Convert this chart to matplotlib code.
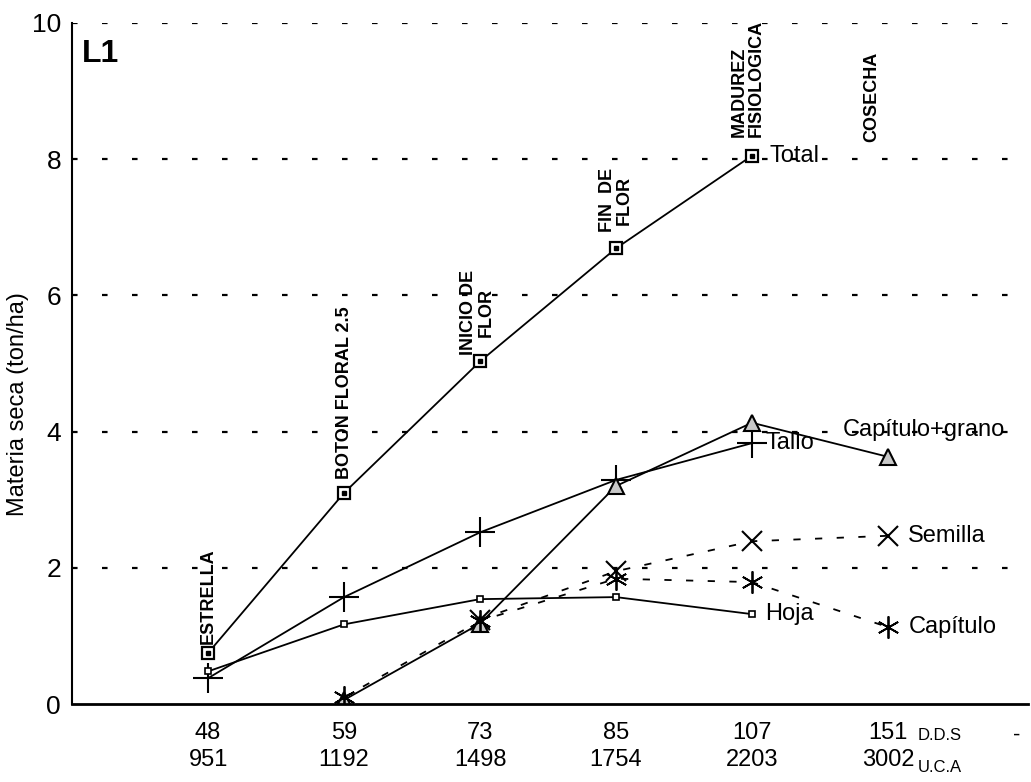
import matplotlib.pyplot as plt

dds = ['48', '59', '73', '85', '107', '151']
uca = ['951', '1192', '1498', '1754', '2203', '3002']

total = [0.75, 3.1, 5.03, 6.69, 8.05]
tallo = [0.38, 1.57, 2.52, 3.29, 3.83]
hoja = [0.48, 1.17, 1.54, 1.57, 1.32]
cap_grano = [0.06, 1.18, 3.2, 4.13, 3.63]
capitulo = [0.1, 1.22, 1.84, 1.79, 1.13]
semilla = [1.24, 1.95, 2.39, 2.47]

etapas = ['ESTRELLA', 'BOTON FLORAL 2.5', 'INICIO DE\nFLOR', 'FIN  DE\nFLOR',
          'MADUREZ\nFISIOLOGICA', 'COSECHA']
etapa_x = [0.0, 1.0, 1.98, 3.0, 3.97, 4.88]
etapa_y = [0.88, 3.3, 5.13, 6.93, 8.32, 8.25]
etapa_align = ['center', 'center', 'center', 'center', 'left', 'center']

plt.rcParams['font.family'] = ['Liberation Sans', 'DejaVu Sans']

fig = plt.figure(figsize=(10.31, 7.82), dpi=100)
ax = fig.add_axes([0.07, 0.0997, 0.927, 0.871])
x = list(range(len(dds)))

for v in [2, 4, 6, 8, 10]:
    ax.axhline(v, color='black', lw=1.6, ls=(0, (2.5, 11)), zorder=0)

ax.plot(x[:5], total, color='black', lw=1.3, marker='s', ms=9, mfc='white', mec='black', mew=1.6)
ax.plot(x[:5], total, ls='none', marker='s', ms=2.5, color='black')
ax.plot(x[:5], tallo, color='black', lw=1.3, marker='+', ms=22, mew=1.5)
ax.plot(x[:5], hoja, color='black', lw=1.3, marker='s', ms=5, mfc='white', mec='black', mew=1.2)
ax.plot(x[1:], cap_grano, color='black', lw=1.3, marker='^', ms=12, mfc='#c8c8c8', mec='black', mew=1.5)
ax.plot(x[1:], capitulo, color='black', lw=1.3, ls=(0, (4, 8)), marker=(6, 2, 0), ms=16, mew=1.3)
ax.plot(x[2:], semilla, color='black', lw=1.3, ls=(0, (4, 8)), marker='x', ms=14, mew=1.5)

ax.text(x[4] + 0.13, total[-1], 'Total', fontsize=17, va='center')
ax.text(x[4] + 0.1, tallo[-1], 'Tallo', fontsize=17, va='center')
ax.text(x[4] + 0.1, hoja[-1], 'Hoja', fontsize=17, va='center')
ax.text(x[5] - 0.33, 4.03, 'Capítulo+grano', fontsize=17, va='center')
ax.text(x[5] + 0.15, semilla[-1], 'Semilla', fontsize=17, va='center')
ax.text(x[5] + 0.15, capitulo[-1], 'Capítulo', fontsize=17, va='center')

for ex, ey, lab, al in zip(etapa_x, etapa_y, etapas, etapa_align):
    ax.text(ex, ey, lab, rotation=90, fontsize=13, fontweight='bold',
            ha='center', va='bottom', linespacing=1.0, multialignment=al)

ax.text(-0.93, 9.55, 'L1', fontsize=23, fontweight='bold', va='center')

ax.set_xlim(-1.0, 6.03)
ax.set_ylim(0, 10)
ax.set_yticks([0, 2, 4, 6, 8, 10])
ax.set_xticks(x)
ax.set_xticklabels([f'{a}\n{b}' for a, b in zip(dds, uca)], fontsize=17, linespacing=1.3)
ax.tick_params(axis='x', length=0, labelsize=17, pad=13)
ax.tick_params(axis='y', length=0, labelsize=19, pad=8)
ax.set_ylabel('Materia seca (ton/ha)', fontsize=17)
ax.yaxis.set_label_coords(-0.045, 0.44)
ax.text(5.22, -0.46, 'D.D.S', fontsize=12, va='center')
ax.text(5.22, -0.93, 'U.C.A', fontsize=12, va='center')
ax.text(5.92, -0.46, '-', fontsize=16, va='center')

ax.spines['top'].set_visible(False)
ax.spines['right'].set_visible(False)
ax.spines['left'].set_linewidth(1.5)
ax.spines['bottom'].set_linewidth(2)

fig.savefig('out.png', dpi=100)
